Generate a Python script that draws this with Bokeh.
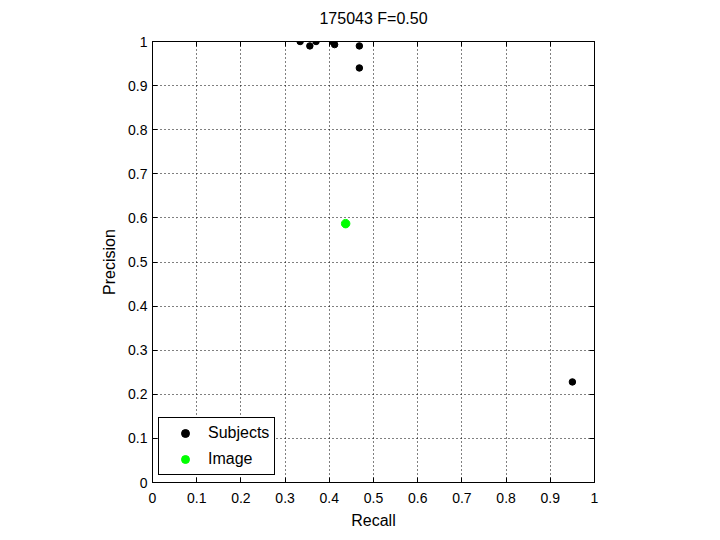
from bokeh.plotting import figure
from bokeh.models import (ColumnDataSource, LinearAxis, FixedTicker, Range1d,
                          Legend, LegendItem)
from bokeh.embed import file_html
from bokeh.resources import INLINE

# Data
subj_recall = [0.334, 0.356, 0.370, 0.407, 0.412, 0.468, 0.468, 0.950]
subj_precision = [1.000, 0.990, 1.000, 1.000, 0.993, 0.990, 0.940, 0.228]
image_recall = [0.437]
image_precision = [0.587]
ticks = [0, 0.1, 0.2, 0.3, 0.4, 0.5, 0.6, 0.7, 0.8, 0.9, 1]
tick_labels = {0: "0", 0.1: "0.1", 0.2: "0.2", 0.3: "0.3", 0.4: "0.4", 0.5: "0.5",
               0.6: "0.6", 0.7: "0.7", 0.8: "0.8", 0.9: "0.9", 1: "1"}
title_text = "175043 F=0.50"

FONT = "Liberation Sans"

p = figure(width=720, height=540, output_backend="svg", toolbar_location=None,
           x_range=Range1d(0, 1), y_range=Range1d(0, 1),
           min_border_left=152, min_border_right=126, min_border_top=41,
           min_border_bottom=58, frame_width=442, frame_height=441,
           x_axis_label="Recall", y_axis_label="Precision")

p.outline_line_color = "black"
p.outline_line_width = 1
p.background_fill_color = "white"
p.border_fill_color = "white"

def style_axis(ax, show_labels=True):
    ax.ticker = FixedTicker(ticks=ticks)
    ax.major_tick_in = 5
    ax.major_tick_out = 0
    ax.minor_tick_in = 0
    ax.minor_tick_out = 0
    ax.axis_line_color = "black"
    ax.major_tick_line_color = "black"
    ax.major_label_text_font = FONT
    ax.major_label_text_font_size = "14px"
    ax.major_label_text_color = "black"
    ax.axis_label_text_font = FONT
    ax.axis_label_text_font_size = "16px"
    ax.axis_label_text_font_style = "normal"
    ax.axis_label_text_color = "black"
    ax.major_label_overrides = tick_labels
    if not show_labels:
        ax.major_label_text_alpha = 0
        ax.major_label_text_font_size = "0px"
        ax.major_label_standoff = 0

for ax in p.xaxis:
    style_axis(ax)
    ax.major_label_standoff = 10
    ax.axis_label_standoff = 6
for ax in p.yaxis:
    style_axis(ax)
    ax.major_label_standoff = 5
    ax.axis_label_standoff = 7

# top axis carries the chart title as its label
top = LinearAxis(axis_label=title_text)
style_axis(top, show_labels=False)
top.axis_label_standoff = 15
p.add_layout(top, "above")
right = LinearAxis()
style_axis(right, show_labels=False)
p.add_layout(right, "right")

p.xgrid.ticker = FixedTicker(ticks=ticks)
p.ygrid.ticker = FixedTicker(ticks=ticks)
for g in (p.xgrid, p.ygrid):
    g.grid_line_color = "black"
    g.grid_line_dash = "1 3"
    g.grid_line_width = 1
    g.grid_line_alpha = 1

src_s = ColumnDataSource(dict(x=subj_recall, y=subj_precision))
src_i = ColumnDataSource(dict(x=image_recall, y=image_precision))
r_s = p.scatter("x", "y", source=src_s, size=6.5, fill_color="black", line_color="black")
r_i = p.scatter("x", "y", source=src_i, size=8.5, fill_color="#00ff00", line_color="#00ff00")

legend = Legend(items=[LegendItem(label="Subjects", renderers=[r_s]),
                       LegendItem(label="Image", renderers=[r_i])],
                location=(6, 7), border_line_color="black", border_line_width=1,
                border_line_alpha=1,
                background_fill_color="white", background_fill_alpha=1,
                label_text_font=FONT, label_text_font_size="16px",
                label_text_color="black",
                glyph_width=42, glyph_height=20, label_height=20, spacing=6,
                padding=5, label_standoff=2, margin=0)
p.add_layout(legend, "center")

open("out.html", "w").write(file_html(p, INLINE))
